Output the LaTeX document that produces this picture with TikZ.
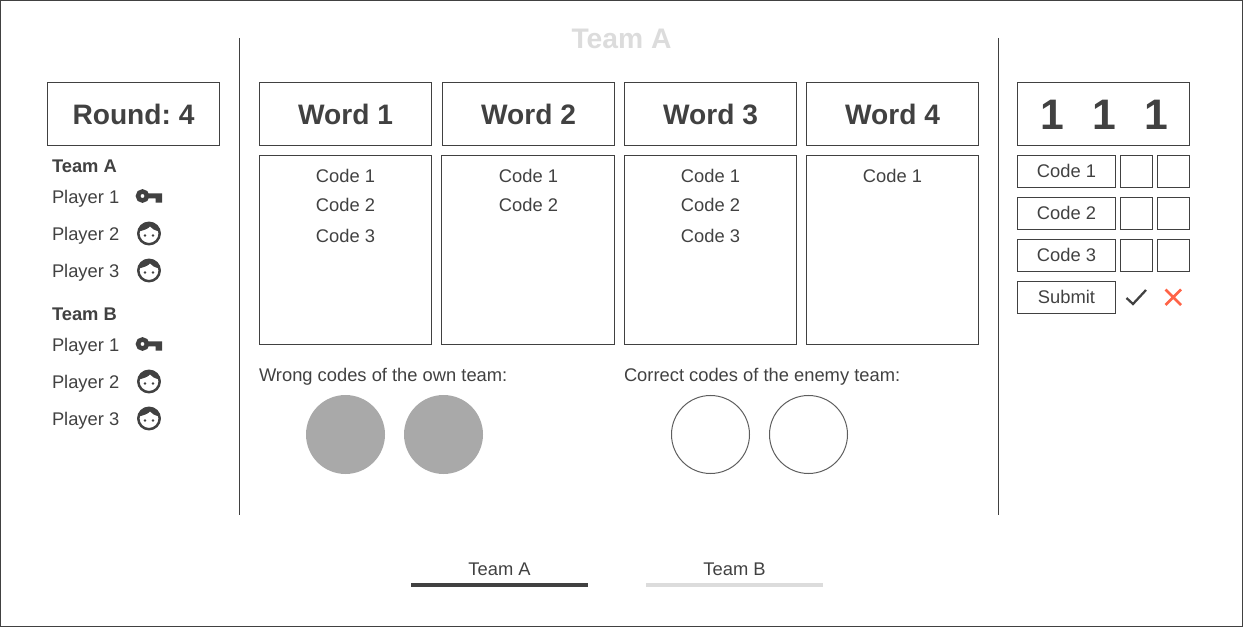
\documentclass[tikz,border=0pt]{standalone}
\usepackage{fontspec}
\setmainfont{Liberation Sans}
\usepackage{xcolor}
\definecolor{ink}{HTML}{414141}
\definecolor{pale}{HTML}{DCDCDC}
\definecolor{disc}{HTML}{A9A9A9}
\definecolor{cross}{HTML}{FF6347}
\tikzset{
	box/.style={draw=ink,line width=.75pt,inner sep=0pt,outer sep=0pt,text=ink,text depth=0pt},
	txt/.style={inner sep=0pt,outer sep=0pt,text=ink,text depth=0pt,font=\fontsize{13.75}{15}\selectfont},
	head/.style={box,minimum width=129pt,minimum height=47.25pt,font=\fontsize{21.1}{24}\selectfont\bfseries},
	sheet/.style={box,minimum width=129pt,minimum height=141.75pt},
	inbox/.style={box,minimum width=73.5pt,minimum height=24pt,font=\fontsize{13.75}{15}\selectfont},
	tick/.style={box,minimum width=24pt,minimum height=24pt},
	face/.pic={
		\draw[ink,line width=1.9pt] (0,0) circle (10.7);
		\fill[ink] (-10.5,-2) arc (191:349:10.7) .. controls (6,-3) and (3,-4.5) .. (1,-7) .. controls (-1,-4.5) and (-6,-3) .. (-10.5,-2) -- cycle;
		\fill[ink] (-4,2) circle (1.4) (4,2) circle (1.4);
	},
	keyicon/.pic={
		\draw[ink,line width=3.4pt] (-6.5,-1) circle (4.5);
		\fill[ink] (-3,-3.7) rectangle (13,1.3) (6.5,0) rectangle (13,5.7);
	}
}
\begin{document}
\begin{tikzpicture}[x=.75pt,y=-.75pt]
	\frenchspacing
	\draw[ink,line width=.75pt] (.5,.5) rectangle (1242.5,626.5);
	\useasboundingbox (0,0) rectangle (1243,627);
	\node[txt,text=pale,font=\fontsize{21.2}{24}\selectfont\bfseries] (title) at (621.5,39) {Team A};
	% dividers
	\coordinate (d1) at (239.5,38);
	\coordinate (d2) at (239.5,515);
	\coordinate (d3) at (998.5,38);
	\coordinate (d4) at (998.5,515);
	\draw[ink,line width=.75pt] (d1) -- (d2);
	\draw[ink,line width=.75pt] (d3) -- (d4);
	% left column
	\node[head] (round) at (133.5,114) {Round: 4};
	\foreach \Team/\Top in {A/166,B/314} {
		\node[txt,anchor=west,font=\fontsize{13.75}{15}\selectfont\bfseries] (team\Team) at (52,\Top) {Team \Team};
		\foreach \Nombre/\Gap in {1/31,2/68,3/105}
			\node[txt,anchor=west] (player\Team\Nombre) at (52,\Top+\Gap) {Player \Nombre};
		\pic at (149,\Top+31) {keyicon};
		\pic at (149,\Top+67.5) {face};
		\pic at (149,\Top+104.5) {face};
	}
	% words and codes
	\foreach \Nombre/\X in {1/345.5,2/528.5,3/710.5,4/892.5}
		\node[head] (word\Nombre) at (\X,114) {Word \Nombre};
	\node[sheet] (sheet1) at (345.5,250) {};
	\node[sheet,minimum width=129.75pt] (sheet2) at (528,250) {};
	\node[sheet] (sheet3) at (710.5,250) {};
	\node[sheet] (sheet4) at (892.5,250) {};
	\foreach \X/\Col in {345.5/1,528.5/2,710.5/3,892.5/4}
		\node[txt] (code\Col a) at (\X,176) {Code 1};
	\foreach \X/\Col in {345.5/1,528.5/2,710.5/3}
		\node[txt] (code\Col b) at (\X,205) {Code 2};
	\foreach \X/\Col in {345.5/1,710.5/3}
		\node[txt] (code\Col c) at (\X,236) {Code 3};
	% tokens
	\node[txt,anchor=west] (wrong) at (259,375) {Wrong codes of the own team:};
	\node[txt,anchor=west] (correct) at (624,375) {Correct codes of the enemy team:};
	\foreach \Nombre/\X in {1/345.5,2/443.5}
		\node[circle,fill=disc,inner sep=0pt,minimum size=59.25pt] (miss\Nombre) at (\X,434.5) {};
	\foreach \Nombre/\X in {1/710.5,2/808.5}
		\node[circle,draw=ink!85,line width=.75pt,inner sep=0pt,minimum size=58.5pt] (hit\Nombre) at (\X,434.5) {};
	% right column
	\node[box,minimum width=129pt,minimum height=47.25pt] (digits) at (1103.5,114) {};
	\foreach \Nombre/\X in {1/1052,2/1104,3/1156}
		\node[txt,font=\fontsize{32}{34}\selectfont\bfseries] (digit\Nombre) at (\X,115) {1};
	\foreach \Nombre/\Y in {1/171.5,2/213.5,3/255.5} {
		\node[inbox] (input\Nombre) at (1066.5,\Y) {\raisebox{.4pt}{Code \Nombre}};
		\node[tick] (left\Nombre) at (1136.5,\Y) {};
		\node[tick] (right\Nombre) at (1173.5,\Y) {};
	}
	\node[inbox] (submit) at (1066.5,297.5) {\raisebox{.4pt}{Submit}};
	\draw[ink,line width=1.7pt] (1126.5,298) -- (1133,304) -- (1146,290);
	\draw[cross,line width=1.9pt] (1165.5,289.5) -- (1181,305) (1181,289.5) -- (1165.5,305);
	% tabs
	\node[txt] (taba) at (499.5,569) {Team A};
	\node[txt] (tabb) at (734.5,569) {Team B};
	\coordinate (a1) at (411,585);
	\coordinate (a2) at (588,585);
	\coordinate (b1) at (646,585);
	\coordinate (b2) at (823,585);
	\draw[ink,line width=3pt] (a1) -- (a2);
	\draw[pale,line width=3pt] (b1) -- (b2);
\end{tikzpicture}
\end{document}
